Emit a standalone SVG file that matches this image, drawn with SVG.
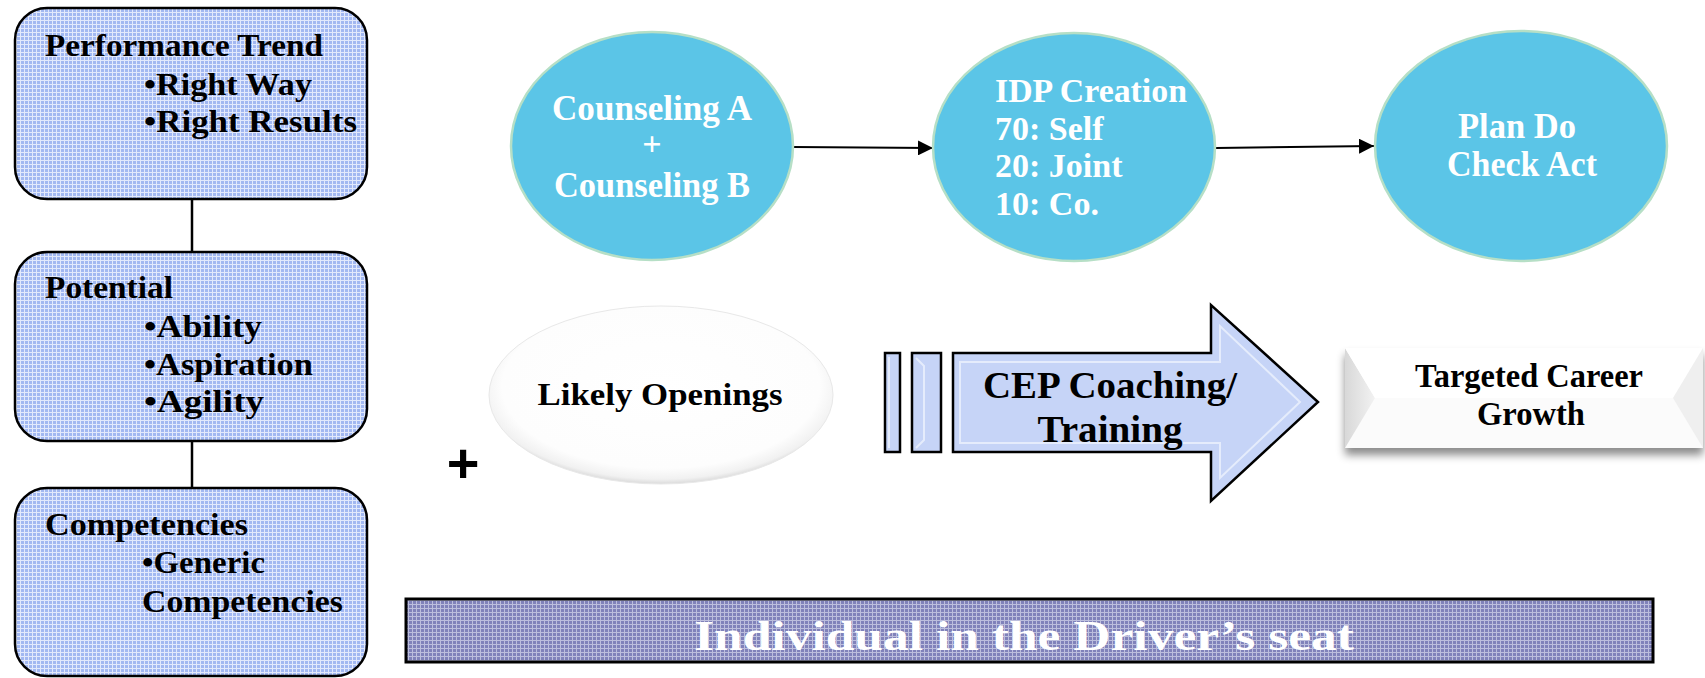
<svg xmlns="http://www.w3.org/2000/svg" width="1705" height="678" viewBox="0 0 1705 678">
<style>
.lbl{font-family:"Liberation Serif","Times New Roman",serif;font-weight:bold;fill:#000;}
.wh{font-family:"Liberation Serif","Times New Roman",serif;font-weight:bold;fill:#fff;}
.box{fill:url(#grid);stroke:#000;stroke-width:2.5;}
.circ{fill:#5bc5e7;stroke:#b6dfc6;stroke-width:2.5;}
.conn{stroke:#000;stroke-width:2.5;fill:none;}
.arr{stroke:#000;stroke-width:2;fill:none;marker-end:url(#ah);}
.cep{fill:#c6d4f7;stroke:#000;stroke-width:2.5;}
.bev{fill:none;stroke:#e8eefc;stroke-width:2;opacity:0.9;}
</style>
<defs>
<pattern id="grid" width="4" height="4" patternUnits="userSpaceOnUse">
<rect width="4" height="4" fill="#a2b8f1"/>
<path d="M0 0.5H4M0.5 0V4" stroke="#e2e9fc" stroke-width="1"/>
</pattern>
<pattern id="grid2" width="4" height="4" patternUnits="userSpaceOnUse">
<rect width="4" height="4" fill="#8082ba"/>
<path d="M0 0.5H4M0.5 0V4" stroke="#bcbedd" stroke-width="1"/>
</pattern>
<marker id="ah" viewBox="0 0 10 10" refX="10" refY="5" markerWidth="15" markerHeight="15" markerUnits="userSpaceOnUse" orient="auto">
<path d="M0 0L10 5L0 10z" fill="#000"/>
</marker>
<radialGradient id="gloss" cx="0.5" cy="0.45" r="0.55">
<stop offset="0" stop-color="#ffffff"/>
<stop offset="0.84" stop-color="#fdfdfd"/>
<stop offset="0.95" stop-color="#f1f1f1"/>
<stop offset="1" stop-color="#dadada"/>
</radialGradient>
<linearGradient id="lbev" x1="0" y1="0" x2="1" y2="0">
<stop offset="0" stop-color="#d8d8d8"/>
<stop offset="1" stop-color="#f2f2f2"/>
</linearGradient>
<filter id="sh" x="-10%" y="-20%" width="120%" height="160%">
<feDropShadow dx="0" dy="7" stdDeviation="4" flood-color="#000" flood-opacity="0.45"/>
</filter>
</defs>

<g id="connectors">
<line class="conn" x1="192" y1="199" x2="192" y2="252"/>
<line class="conn" x1="192" y1="441" x2="192" y2="488"/>
<line class="arr" x1="793" y1="147" x2="933" y2="148"/>
<line class="arr" x1="1216" y1="148" x2="1374" y2="146"/>
</g>

<g id="performance-trend">
<rect class="box" x="15" y="8" width="352" height="191" rx="32"/>
<text class="lbl" x="45" y="56" font-size="32" textLength="278" lengthAdjust="spacingAndGlyphs">Performance Trend</text>
<text class="lbl" x="144" y="95" font-size="32" textLength="168" lengthAdjust="spacingAndGlyphs">•Right Way</text>
<text class="lbl" x="144" y="132" font-size="32" textLength="213" lengthAdjust="spacingAndGlyphs">•Right Results</text>
</g>

<g id="potential">
<rect class="box" x="15" y="252" width="352" height="189" rx="32"/>
<text class="lbl" x="45" y="298" font-size="32" textLength="128" lengthAdjust="spacingAndGlyphs">Potential</text>
<text class="lbl" x="144" y="337" font-size="32" textLength="118" lengthAdjust="spacingAndGlyphs">•Ability</text>
<text class="lbl" x="144" y="375" font-size="32" textLength="169" lengthAdjust="spacingAndGlyphs">•Aspiration</text>
<text class="lbl" x="144" y="412" font-size="32" textLength="120" lengthAdjust="spacingAndGlyphs">•Agility</text>
</g>

<g id="competencies">
<rect class="box" x="15" y="488" width="352" height="188" rx="32"/>
<text class="lbl" x="45" y="535" font-size="32" textLength="203" lengthAdjust="spacingAndGlyphs">Competencies</text>
<text class="lbl" x="142" y="573" font-size="32" textLength="123" lengthAdjust="spacingAndGlyphs">•Generic</text>
<text class="lbl" x="142" y="612" font-size="32" textLength="201" lengthAdjust="spacingAndGlyphs">Competencies</text>
</g>

<g id="counseling">
<ellipse class="circ" cx="652" cy="146" rx="141" ry="114"/>
<text class="wh" x="652" y="120" font-size="35" text-anchor="middle" textLength="200" lengthAdjust="spacingAndGlyphs">Counseling A</text>
<text class="wh" x="652" y="155" font-size="34" text-anchor="middle">+</text>
<text class="wh" x="652" y="197" font-size="35" text-anchor="middle" textLength="196" lengthAdjust="spacingAndGlyphs">Counseling B</text>
</g>

<g id="idp-creation">
<ellipse class="circ" cx="1074" cy="147" rx="141" ry="114"/>
<text class="wh" x="995" y="102" font-size="34" textLength="192" lengthAdjust="spacingAndGlyphs">IDP Creation</text>
<text class="wh" x="995" y="140" font-size="34">70: Self</text>
<text class="wh" x="995" y="177" font-size="34">20: Joint</text>
<text class="wh" x="995" y="215" font-size="34">10: Co.</text>
</g>

<g id="pdca">
<ellipse class="circ" cx="1521" cy="146" rx="146" ry="115"/>
<text class="wh" x="1517" y="138" font-size="35" text-anchor="middle" textLength="118" lengthAdjust="spacingAndGlyphs">Plan Do</text>
<text class="wh" x="1522" y="176" font-size="35" text-anchor="middle" textLength="150" lengthAdjust="spacingAndGlyphs">Check Act</text>
</g>

<g id="plus">
<text x="463" y="482" font-family="Liberation Sans, Arial, sans-serif" font-weight="bold" font-size="56" text-anchor="middle" fill="#000">+</text>
</g>

<g id="likely-openings">
<ellipse cx="661" cy="395" rx="172" ry="89" fill="url(#gloss)" stroke="#e8e8e8" stroke-width="1"/>
<text class="lbl" x="660" y="405" font-size="32" text-anchor="middle" textLength="245" lengthAdjust="spacingAndGlyphs">Likely Openings</text>
</g>

<g id="cep-coaching">
<rect class="cep" x="885" y="353" width="15" height="99"/>
<rect class="cep" x="912" y="353" width="29" height="99"/>
<path class="bev" d="M889 357V448M916 358L924 366V440L916 448"/>
<polygon class="cep" points="953,353 1211,353 1211,305 1318,402 1211,501 1211,452 953,452"/>
<path class="bev" d="M960 362H1220V326L1300 402L1220 478V443H960z"/>
<text class="lbl" x="1110" y="398" font-size="37" text-anchor="middle" textLength="254" lengthAdjust="spacingAndGlyphs">CEP Coaching/</text>
<text class="lbl" x="1110" y="442" font-size="37" text-anchor="middle" textLength="145" lengthAdjust="spacingAndGlyphs">Training</text>
</g>

<g id="targeted-career-growth">
<rect x="1345" y="348" width="358" height="100" fill="#fbfbfb" filter="url(#sh)"/>
<polygon points="1345,348 1375,398 1345,448" fill="url(#lbev)"/>
<polygon points="1345,348 1703,348 1673,398 1375,398" fill="#ffffff"/>
<polygon points="1703,348 1703,448 1673,398" fill="#efefef"/>
<text class="lbl" x="1529" y="387" font-size="33" text-anchor="middle" textLength="228" lengthAdjust="spacingAndGlyphs">Targeted Career</text>
<text class="lbl" x="1531" y="425" font-size="33" text-anchor="middle" textLength="108" lengthAdjust="spacingAndGlyphs">Growth</text>
</g>

<g id="driver-banner">
<rect x="406" y="599" width="1247" height="63" fill="url(#grid2)" stroke="#000" stroke-width="3"/>
<text class="wh" x="1024" y="650" font-size="42" text-anchor="middle" textLength="660" lengthAdjust="spacingAndGlyphs">Individual in the Driver’s seat</text>
</g>
</svg>
